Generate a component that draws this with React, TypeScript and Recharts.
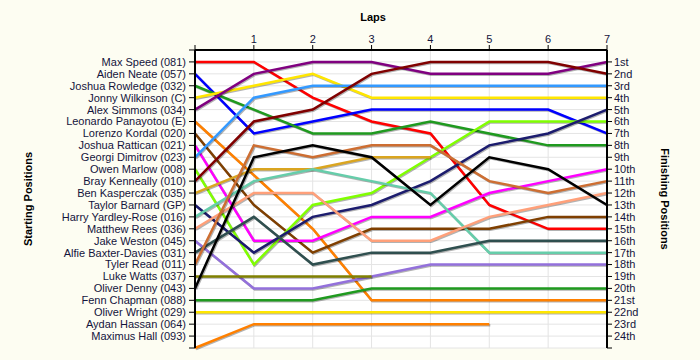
import { CartesianGrid, Line, LineChart, XAxis, YAxis } from 'recharts';

const laps = [0, 1, 2, 3, 4, 5, 6, 7];

const drivers = [
  'Max Speed (081)', 'Aiden Neate (057)', 'Joshua Rowledge (032)', 'Jonny Wilkinson (C)',
  'Alex Simmons (034)', 'Leonardo Panayotou (E)', 'Lorenzo Kordal (020)', 'Joshua Rattican (021)',
  'Georgi Dimitrov (023)', 'Owen Marlow (008)', 'Bray Kenneally (010)', 'Ben Kasperczak (035)',
  'Taylor Barnard (GP)', 'Harry Yardley-Rose (016)', 'Matthew Rees (036)', 'Jake Weston (045)',
  'Alfie Baxter-Davies (031)', 'Tyler Read (011)', 'Luke Watts (037)', 'Oliver Denny (043)',
  'Fenn Chapman (088)', 'Oliver Wright (029)', 'Aydan Hassan (064)', 'Maximus Hall (093)',
];

const finishLabels = [
  '1st', '2nd', '3rd', '4th', '5th', '6th', '7th', '8th', '9th', '10th', '11th', '12th',
  '13th', '14th', '15th', '16th', '17th', '18th', '19th', '20th', '21st', '22nd', '23rd', '24th',
];

// position of each driver at laps 0..7 (null = no data)
const maxSpeed = [1, 1, 4, 6, 7, 13, 15, 15];
const aidenNeate = [2, 7, 6, 5, 5, 5, 5, 7];
const joshuaRowledge = [3, 5, 7, 7, 6, 7, 8, 8];
const jonnyWilkinson = [4, 3, 2, 4, 4, 4, 4, 4];
const alexSimmons = [5, 2, 1, 1, 2, 2, 2, 1];
const leonardoPanayotou = [6, null, 15, 21, 21, 21, 21, 21];
const lorenzoKordal = [7, 13, 17, 15, 15, 15, 14, 14];
const joshuaRattican = [8, 16, 16, 14, 14, 12, 11, 10];
const georgiDimitrov = [9, 4, 3, 3, 3, 3, 3, 3];
const owenMarlow = [10, 18, 13, 12, 9, 6, 6, 6];
const brayKenneally = [11, 6, 5, 2, 1, 1, 1, 2];
const benKasperczak = [12, 10, 10, 9, 9, null, null, null];
const taylorBarnard = [13, 17, 14, 13, 11, 8, 7, 5];
const harryYardleyRose = [14, 11, 10, 11, 12, 17, 17, 17];
const matthewRees = [15, 12, 12, 16, 16, 14, 13, 12];
const jakeWeston = [16, 20, 20, 19, 18, 18, 18, 18];
const alfieBaxterDavies = [17, 14, 18, 17, 17, 16, 16, 16];
const tylerRead = [18, 8, 9, 8, 8, 11, 12, 11];
const lukeWatts = [19, 19, 19, 19, null, null, null, null];
const oliverDenny = [20, 9, 8, 9, 13, 9, 10, 13];
const fennChapman = [21, 21, 21, 20, 20, 20, 20, 20];
const oliverWright = [22, 22, 22, 22, 22, 22, 22, 22];
const aydanHassan = [25, 23, 23, 23, 23, 23, null, null];
const maximusHall = [null, null, null, null, null, null, null, null];

const positions = [
  maxSpeed, aidenNeate, joshuaRowledge, jonnyWilkinson, alexSimmons, leonardoPanayotou,
  lorenzoKordal, joshuaRattican, georgiDimitrov, owenMarlow, brayKenneally, benKasperczak,
  taylorBarnard, harryYardleyRose, matthewRees, jakeWeston, alfieBaxterDavies, tylerRead,
  lukeWatts, oliverDenny, fennChapman, oliverWright, aydanHassan, maximusHall,
];

const colours = [
  '#ff0000', '#0000ff', '#1f9a1f', '#ffe600', '#800080', '#ff8000',
  '#7f3f00', '#ff00ff', '#3399ff', '#80ff00', '#800000', '#daa520',
  '#1c1c6e', '#66cdaa', '#ffa07a', '#9370db', '#2f4f4f', '#cd6e32',
  '#808000', '#000000', '#1f9a1f', '#ffe600', '#ff8000', '#ff8000',
];

const rows = laps.map((lap, i) => {
  const row: Record<string, number | null> = { lap };
  positions.forEach((p, d) => {
    row[`d${d}`] = p[i];
  });
  return row;
});

const posTicks = Array.from({ length: 26 }, (_, i) => i);
const textColour = '#14143c';

export default function App() {
  return (
    <div
      style={{
        position: 'relative',
        width: 700,
        height: 360,
        background: '#fdfdf2',
        fontFamily: '"Liberation Sans", Arial, sans-serif',
      }}
    >
      <style>{`body{margin:0} .recharts-line-curve{filter:drop-shadow(1px 1px 0 rgba(0,0,0,0.3))}`}</style>
      <LineChart width={700} height={360} data={rows} margin={{ top: 0, right: 0, bottom: 12, left: 0 }}>
        <CartesianGrid yAxisId="left" stroke="#e4e4e4" fill="#ffffff" />
        <XAxis
          dataKey="lap"
          type="number"
          orientation="top"
          domain={[0, 7]}
          ticks={laps}
          interval={0}
          height={50}
          tickFormatter={v => (v === 0 ? '' : String(v))}
          axisLine={{ stroke: '#000', strokeWidth: 2 }}
          tickLine={{ stroke: '#000' }}
          tickSize={5}
          tickMargin={2}
          tick={{ fill: textColour, fontSize: 11 }}
        />
        <YAxis
          yAxisId="left"
          type="number"
          domain={[0, 25]}
          reversed
          ticks={posTicks}
          interval={0}
          width={195}
          tickFormatter={v => drivers[v - 1] ?? ''}
          axisLine={{ stroke: '#000', strokeWidth: 2 }}
          tickLine={{ stroke: '#000' }}
          tickSize={6}
          tickMargin={3}
          tick={{ fill: textColour, fontSize: 11 }}
        />
        <YAxis
          yAxisId="right"
          orientation="right"
          type="number"
          domain={[0, 25]}
          reversed
          allowDataOverflow
          ticks={posTicks.slice(1)}
          interval={0}
          width={93}
          tickFormatter={v => finishLabels[v - 1] ?? ''}
          axisLine={{ stroke: '#000', strokeWidth: 2 }}
          tickLine={{ stroke: '#000' }}
          tickSize={5}
          tickMargin={2}
          tick={{ fill: textColour, fontSize: 11 }}
        />
        {positions.map((_, d) => (
          <Line
            key={d}
            yAxisId="left"
            type="linear"
            dataKey={`d${d}`}
            stroke={colours[d]}
            strokeWidth={2.5}
            dot={false}
            connectNulls={d === 5}
            isAnimationActive={false}
          />
        ))}
      </LineChart>
      <div
        style={{
          position: 'absolute',
          left: 323,
          top: 11,
          width: 100,
          textAlign: 'center',
          fontSize: 11,
          fontWeight: 'bold',
          color: '#000',
        }}
      >
        Laps
      </div>
      <div
        style={{
          position: 'absolute',
          left: 28,
          top: 199,
          transform: 'translate(-50%, -50%) rotate(-90deg)',
          whiteSpace: 'nowrap',
          fontSize: 11,
          fontWeight: 'bold',
          color: '#000',
        }}
      >
        Starting Positions
      </div>
      <div
        style={{
          position: 'absolute',
          left: 665,
          top: 199,
          transform: 'translate(-50%, -50%) rotate(90deg)',
          whiteSpace: 'nowrap',
          fontSize: 11,
          fontWeight: 'bold',
          color: '#000',
        }}
      >
        Finishing Positions
      </div>
    </div>
  );
}
